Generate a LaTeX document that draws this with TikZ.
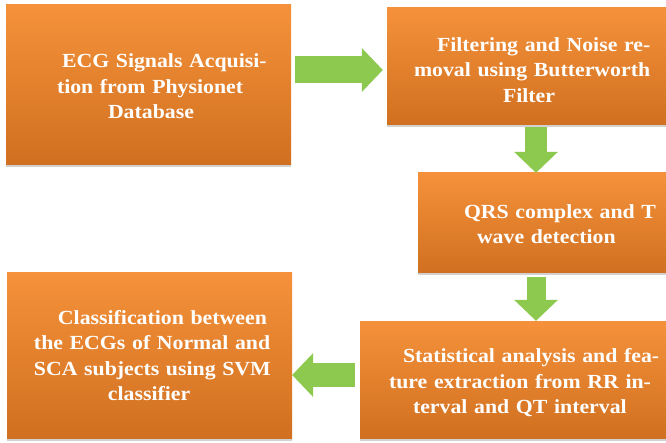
\documentclass[tikz,border=0pt]{standalone}
\usepackage{fontspec}
\setmainfont{Liberation Serif}[FakeStretch=1.09]
\usetikzlibrary{arrows.meta,shadows}
\definecolor{boxtop}{RGB}{245,145,58}
\definecolor{boxbottom}{RGB}{208,112,32}
\definecolor{arrowgreen}{RGB}{141,200,79}

% a line spread out to a fixed width
\newcommand{\spreadline}[2]{\makebox[#1][s]{#2}}

\begin{document}
\begin{tikzpicture}[x=1pt,y=1pt,
    stage/.style={rectangle, draw=none, top color=boxtop, bottom color=boxbottom,
        drop shadow={shadow xshift=0pt, shadow yshift=-2.5pt, fill=black!40, opacity=.45}},
    stagetext/.style={text=white, font=\fontsize{20}{25.5}\selectfont\bfseries,
        align=left, inner sep=0pt},
    flow/.style={draw=arrowgreen, line width=24pt,
        -{Triangle[width=44pt,length=21pt,line width=0pt]}}]
    \useasboundingbox (0,0) rectangle (666,442);

    % processing stages
    \node[stage, minimum width=285pt, minimum height=160pt] (acq) at (148.5,357) {};
    \node[stage, minimum width=279pt, minimum height=117pt] (filt) at (526.5,375.5) {};
    \node[stage, minimum width=248pt, minimum height=100pt] (qrs) at (542,219) {};
    \node[stage, minimum width=306pt, minimum height=117pt] (stat) at (513,62.5) {};
    \node[stage, minimum width=285pt, minimum height=165pt] (cls) at (149.5,86.5) {};

    % stage texts
    \node[stagetext, text width=205pt] (acqtext) at (159.5,355.8)
        {\hspace*{5pt}\spreadline{200pt}{ECG Signals Acquisi-}\\
         tion from Physionet\\
         \hspace*{51pt}Database};
    \node[stagetext, text width=231pt] (filttext) at (529.5,372.2)
        {\hspace*{23pt}\spreadline{208pt}{Filtering and Noise re-}\\
         \spreadline{231pt}{moval using Butterworth}\\
         \hspace*{89pt}Filter};
    \node[stagetext, text width=186pt] (qrstext) at (557,217.8)
        {\spreadline{186pt}{QRS complex and T}\\
         \hspace*{13pt}wave detection};
    \node[stagetext, text width=259pt] (stattext) at (518.5,59.1)
        {\hspace*{14pt}\spreadline{245pt}{Statistical analysis and fea-}\\
         \spreadline{259pt}{ture extraction from RR in-}\\
         \hspace*{24pt}terval and QT interval};
    \node[stagetext, text width=230pt] (clstext) at (149,86.3)
        {\hspace*{24pt}\spreadline{206pt}{Classification between}\\
         \spreadline{230pt}{the ECGs of Normal and}\\
         \spreadline{230pt}{SCA subjects using SVM}\\
         \hspace*{74pt}classifier};

    % block arrows between stages
    \coordinate (row1) at (0,372);
    \coordinate (col) at (536,0);
    \coordinate (row2) at (0,67);
    \draw[flow, line width=27pt, shorten <=4pt, shorten >=4pt] (acq.east |- row1) -- (filt.west |- row1);
    \draw[flow, line width=22pt, shorten <=2pt] (filt.south -| col) -- (qrs.north -| col);
    \draw[flow, line width=19pt, shorten <=4pt] (qrs.south -| col) -- (stat.north -| col);
    \draw[flow, shorten <=5pt] (stat.west |- row2) -- (cls.east |- row2);
\end{tikzpicture}
\end{document}
